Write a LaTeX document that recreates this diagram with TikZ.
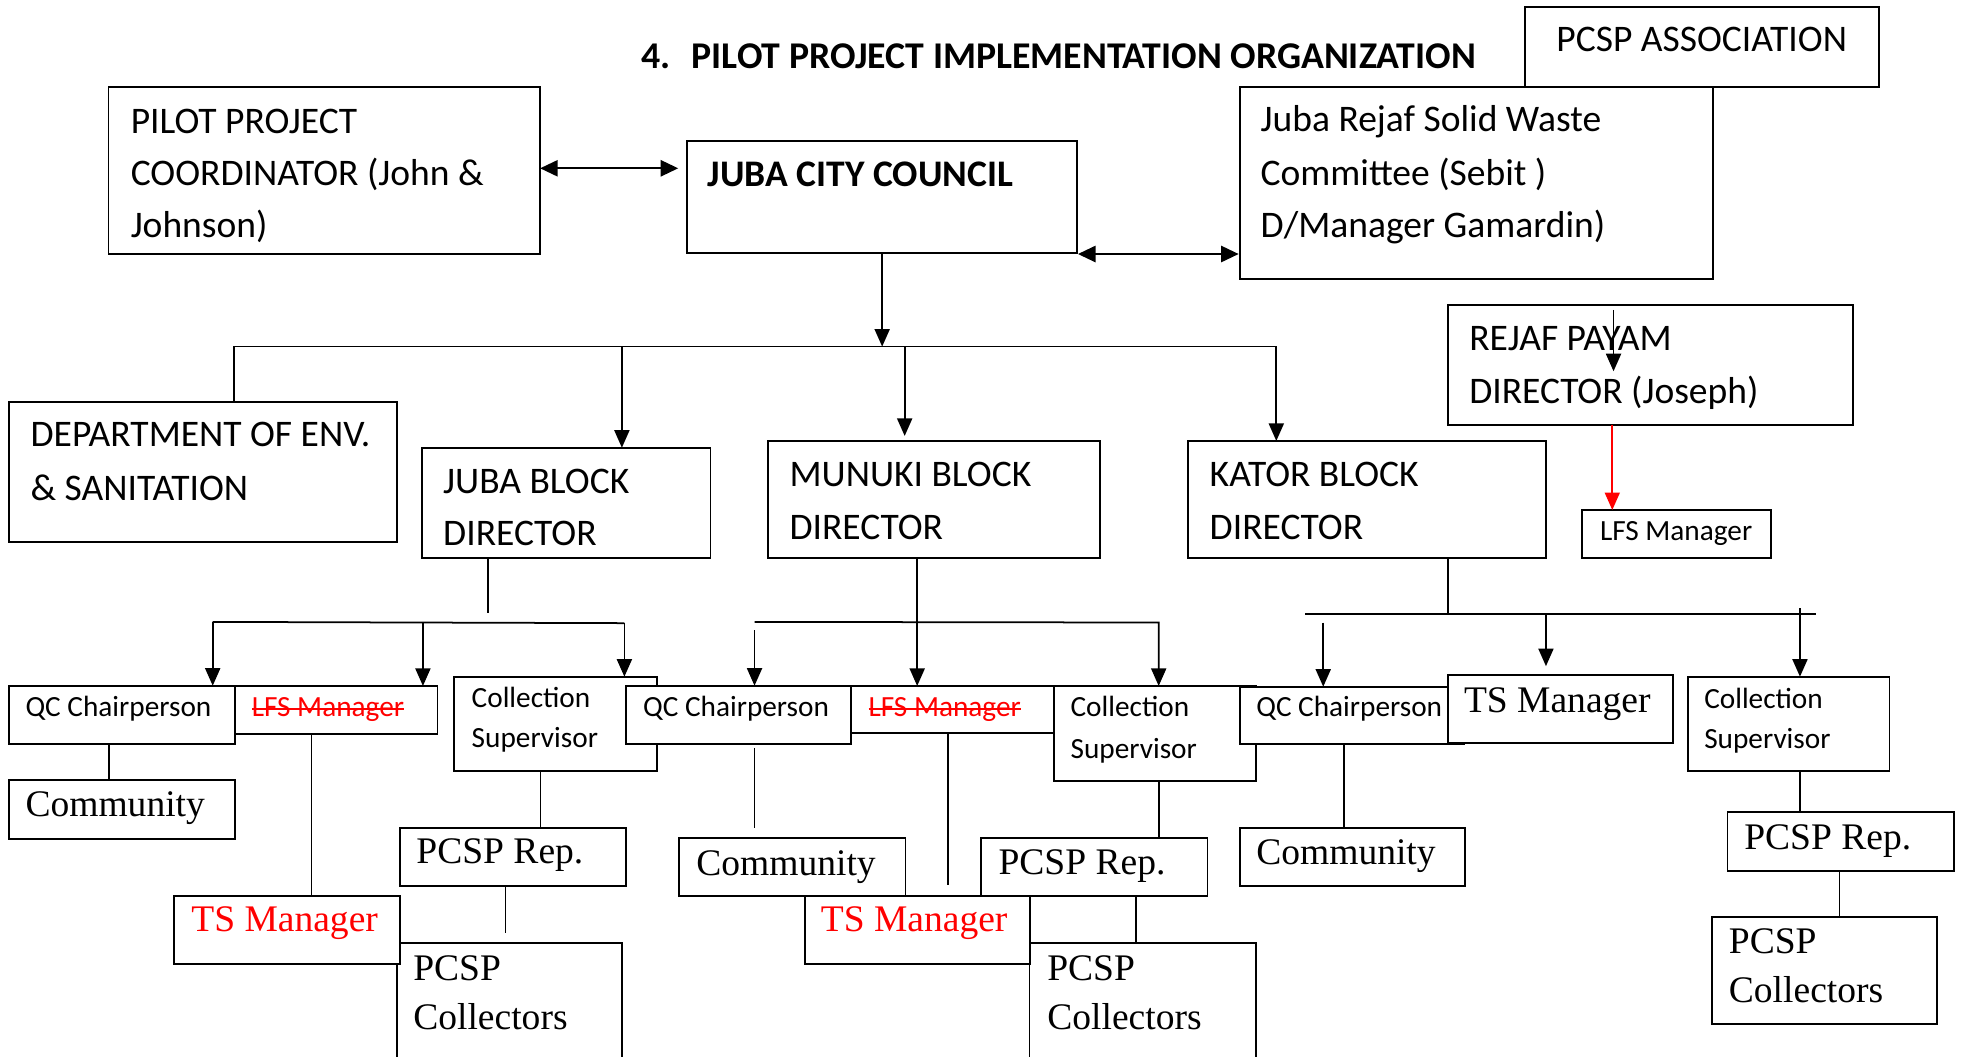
\documentclass[tikz,border=0pt]{standalone}
\usepackage{fontspec}
\setmainfont{Carlito}
\newfontfamily\tmsfam{Liberation Serif}
\usetikzlibrary{arrows.meta,calc}
\newcommand\fbig{\fontsize{30pt}{36pt}\selectfont}
\newcommand\fttl{\fontsize{30.2pt}{36pt}\selectfont}
\newcommand\fsml{\fontsize{23.4pt}{28pt}\selectfont}
\newcommand\ftms{\tmsfam\fontsize{30pt}{36pt}\selectfont}
\begin{document}
\begin{tikzpicture}[x=1pt,y=-1pt,
  box/.style={draw, line width=1.5pt, fill=white, inner sep=0pt, outer sep=0pt, anchor=north west},
  tx/.style={anchor=base west, inner sep=0pt, outer sep=0pt, font=\fbig},
  sm/.style={tx, font=\fsml},
  tm/.style={tx, font=\ftms},
  ln/.style={line width=1.4pt},
  ar/.style={ln, -{Triangle[length=14pt,width=12pt]}},
  da/.style={ln, {Triangle[length=14pt,width=13pt]}-{Triangle[length=14pt,width=13pt]}},
  strike/.style={red, line width=1.1pt}
]
\clip (0,0) rectangle (1568,844);
\fill[white] (0,0) rectangle (1568,844);

% ---------- boxes ----------
\node[box, minimum width=283pt, minimum height=64.5pt] (pcsp) at (1218.4,5.3) {};
\node[box, minimum width=345pt, minimum height=133.2pt] (ppc) at (86.7,69.8) {};
\node[box, minimum width=311.5pt, minimum height=90.1pt] (jcc) at (549,112.4) {};
\node[box, minimum width=378pt, minimum height=153.4pt] (jrs) at (990.9,69.8) {};
\node[box, minimum width=323.6pt, minimum height=95.9pt] (rpd) at (1157.1,243.7) {};
\node[box, minimum width=309.9pt, minimum height=111.9pt] (env) at (7.1,321.5) {};
\node[box, minimum width=230.4pt, minimum height=87.9pt] (jbd) at (337.4,357.8) {};
\node[box, minimum width=265.3pt, minimum height=93.3pt] (mbd) at (613.7,352.4) {};
\node[box, minimum width=286.3pt, minimum height=93.3pt] (kbd) at (949.2,352.4) {};
\node[box, minimum width=150.5pt, minimum height=38.1pt] (lfsR) at (1264.5,407.6) {};

\node[box, minimum width=180.4pt, minimum height=46.6pt] (qc1) at (7.2,548) {};
\node[box, minimum width=162pt, minimum height=38.1pt] (lfs1) at (187.6,548.2) {};
\node[box, minimum width=162.1pt, minimum height=75.1pt] (cs1) at (362.9,540.8) {};
\node[box, minimum width=180.4pt, minimum height=46.6pt] (qc2) at (500,548) {};
\node[box, minimum width=161.9pt, minimum height=37.8pt] (lfs2) at (680.4,548.2) {};
\node[box, minimum width=161.3pt, minimum height=75.7pt] (cs2) at (842.3,548.2) {};
\node[box, minimum width=179.4pt, minimum height=46pt] (qc3) at (990.9,548.8) {};
\node[box, minimum width=179.9pt, minimum height=54.6pt] (tsK) at (1157.1,539.4) {};
\node[box, minimum width=161.2pt, minimum height=75.2pt] (cs3) at (1348.8,540.8) {};

\node[box, minimum width=180.4pt, minimum height=46.6pt] (com1) at (7.2,623.6) {};
\node[box, minimum width=180pt, minimum height=46.5pt] (rep1) at (320,661.5) {};
\node[box, minimum width=180.9pt, minimum height=46.6pt] (com2) at (542.8,669.4) {};
\node[box, minimum width=181pt, minimum height=46.4pt] (rep2) at (784,669.6) {};
\node[box, minimum width=179.9pt, minimum height=46.3pt] (com3) at (990.9,661.5) {};
\node[box, minimum width=181pt, minimum height=46.6pt] (rep3) at (1380.6,649.2) {};

\node[box, minimum width=180.4pt, minimum height=110pt] (col1) at (317,753.9) {};
\node[box, minimum width=180.9pt, minimum height=54.4pt] (ts1) at (139.1,716) {};
\node[box, minimum width=180.9pt, minimum height=110pt] (col2) at (822.7,753.9) {};
\node[box, minimum width=180pt, minimum height=54.4pt] (ts2) at (643.2,716) {};
\node[box, minimum width=179.9pt, minimum height=85.4pt] (col3) at (1368.4,733) {};

% ---------- texts ----------
\node[tx, font=\fttl\bfseries] (title) at (512.3,54.6) {4.\hspace{17pt}PILOT PROJECT IMPLEMENTATION ORGANIZATION};
\node[tx] (pcspT) at (1243.8,41.3) {PCSP ASSOCIATION};
\node[tx] (ppcT1) at (104.5,106.6) {PILOT PROJECT};
\node[tx] (ppcT2) at (104.5,147.9) {COORDINATOR (John \&};
\node[tx] (ppcT3) at (104.5,189.7) {Johnson)};
\node[tx, font=\fbig\bfseries] (jccT) at (565.8,149.2) {JUBA CITY COUNCIL};
\node[tx] (jrsT1) at (1007.5,105.2) {Juba Rejaf Solid Waste};
\node[tx] (jrsT2) at (1007.5,147.9) {Committee (Sebit )};
\node[tx] (jrsT3) at (1007.5,189.7) {D/Manager Gamardin)};
\node[tx] (rpdT1) at (1174.2,280.2) {REJAF PAYAM};
\node[tx] (rpdT2) at (1174.2,322.3) {DIRECTOR (Joseph)};
\node[tx] (envT1) at (24.5,357) {DEPARTMENT OF ENV.};
\node[tx] (envT2) at (24.5,399.6) {\& SANITATION};
\node[tx] (jbdT1) at (354.2,394.3) {JUBA BLOCK};
\node[tx] (jbdT2) at (354.2,436) {DIRECTOR};
\node[tx] (mbdT1) at (631,389) {MUNUKI BLOCK};
\node[tx] (mbdT2) at (631,431.4) {DIRECTOR};
\node[tx] (kbdT1) at (966.8,389) {KATOR BLOCK};
\node[tx] (kbdT2) at (966.8,431) {DIRECTOR};
\node[sm] (lfsRT) at (1278.7,431.6) {LFS Manager};

\node[sm] (qc1T) at (20.4,572.7) {QC Chairperson};
\node[sm, red] (lfs1T) at (201.3,572.7) {LFS Manager};
\draw[strike] ([yshift=6pt]lfs1T.base west) -- ([yshift=6pt]lfs1T.base east);
\node[sm] (cs1T1) at (377,565.3) {Collection};
\node[sm] (cs1T2) at (377,597.5) {Supervisor};
\node[sm] (qc2T) at (514,572.7) {QC Chairperson};
\node[sm, red] (lfs2T) at (694.2,572.7) {LFS Manager};
\draw[strike] ([yshift=6pt]lfs2T.base west) -- ([yshift=6pt]lfs2T.base east);
\node[sm] (cs2T1) at (855.6,572.7) {Collection};
\node[sm] (cs2T2) at (855.6,606) {Supervisor};
\node[sm] (qc3T) at (1004,572.7) {QC Chairperson};
\node[tm] (tsKT) at (1170,569.3) {TS Manager};
\node[sm] (cs3T1) at (1362,566) {Collection};
\node[sm] (cs3T2) at (1362,598) {Supervisor};

\node[tm] (com1T) at (20.4,652.7) {Community};
\node[tm] (rep1T) at (332.8,690) {PCSP Rep.};
\node[tm] (com2T) at (556.5,699.3) {Community};
\node[tm] (rep2T) at (798,698.5) {PCSP Rep.};
\node[tm] (com3T) at (1004,690.7) {Community};
\node[tm] (rep3T) at (1394,678.5) {PCSP Rep.};
\node[tm, red] (ts1T) at (152.9,744.6) {TS Manager};
\node[tm, red] (ts2T) at (656,744.6) {TS Manager};
\node[tm] (col1T1) at (330.3,783.2) {PCSP};
\node[tm] (col1T2) at (330.3,822.6) {Collectors};
\node[tm] (col2T1) at (837,783.2) {PCSP};
\node[tm] (col2T2) at (837,822.6) {Collectors};
\node[tm] (col3T1) at (1381.7,762.4) {PCSP};
\node[tm] (col3T2) at (1381.7,801) {Collectors};

% ---------- connectors: top ----------
\draw[da] (ppc.east |- 0,134.5) -- ($(jcc.west |- 0,134.5)+(-7,0)$);
\draw[da] ($(jcc.south east)+(1,0.5)$) -- ($(jrs.west |- jcc.south east)+(-1,0.5)$);
\coordinate (busL) at (187,277);
\coordinate (busR) at (1020,277);
\draw[ar] (705,0 |- jcc.south) -- (705,0 |- busL);
\draw[ar] (busL |- env.north) -- (busL) -- (busR) -- (busR |- kbd.north);
\draw[ar] (497,0 |- busL) -- (497,0 |- jbd.north);
\draw[ar] (723,0 |- busL) -- ($(723,0 |- mbd.north)+(0,-4)$);

% rejaf payam
\coordinate (rpA) at ($(1289.5,0 |- rpd.north)+(0,4)$);
\coordinate (rpB) at ($(1289.5,0 |- rpd.north)+(0,53)$);
\draw[ar] (rpA) -- (rpB);
\draw[ar, red] (1288.5,0 |- rpd.south) -- (1288.5,0 |- lfsR.north);

% ---------- juba block ----------
\coordinate (jbV) at ($(390,0 |- jbd.south)+(0,44)$);
\draw[ln] (390,0 |- jbd.south) -- (jbV);
\coordinate (jbL) at (170,497);
\coordinate (jbM) at (338,497.5);
\coordinate (jbR) at (499,498);
\draw[ln] (jbL) -- (jbR);
\draw[ar] (jbL) -- (jbL |- qc1.north);
\draw[ar] (jbM) -- (jbM |- lfs1.north);
\draw[ar] (jbR) -- (jbR |- cs1.north);
\draw[ln] (87,0 |- qc1.south) -- (87,0 |- com1.north);
\draw[ln] (249,0 |- lfs1.south) -- (249,0 |- ts1.north);
\draw[ln] (432,0 |- cs1.south) -- (432,0 |- rep1.north);
\coordinate (r1end) at ($(404,0 |- col1.north)+(0,-8)$);
\draw[ln] (404,0 |- rep1.south) -- (r1end);

% ---------- munuki block ----------
\draw[ar] (733,0 |- mbd.south) -- (733,0 |- lfs2.north);
\coordinate (mbL) at (603,497);
\coordinate (mbR) at (926,497.5);
\draw[ar] (mbL) -- (mbR) -- (mbR |- cs2.north);
\coordinate (mbA) at (603,503.5);
\draw[ar] (mbA) -- (mbA |- qc2.north);
\coordinate (c2end) at ($(603,0 |- com2.north)+(0,-8)$);
\draw[ln] ($(603,0 |- qc2.south)+(0,3)$) -- (c2end);
\coordinate (l2end) at ($(757.5,0 |- ts2.north)+(0,-9)$);
\draw[ln] (757.5,0 |- lfs2.south) -- (l2end);
\draw[ln] (926,0 |- cs2.south) -- (926,0 |- rep2.north);
\draw[ln] (908,0 |- rep2.south) -- (908,0 |- col2.north);

% ---------- kator block ----------
\coordinate (kbV) at (1157,490.7);
\draw[ln] (1157,0 |- kbd.south) -- (kbV);
\coordinate (kbL) at (1043,490.7);
\coordinate (kbR) at (1451,490.7);
\draw[ln] (kbL) -- (kbR);
\coordinate (kA) at (1057.5,497.6);
\draw[ar] (kA) -- (kA |- qc3.north);
\coordinate (kB) at (1235.5,490.7);
\draw[ar] (kB) -- ($(kB |- tsK.north)+(0,-7)$);
\coordinate (kC) at (1438.5,486);
\draw[ar] (kC) -- (kC |- cs3.north);
\draw[ln] (1074,0 |- qc3.south) -- (1074,0 |- com3.north);
\draw[ln] (1438.5,0 |- cs3.south) -- (1438.5,0 |- rep3.north);
\draw[ln] (1470,0 |- rep3.south) -- (1470,0 |- col3.north);
\end{tikzpicture}
\end{document}
